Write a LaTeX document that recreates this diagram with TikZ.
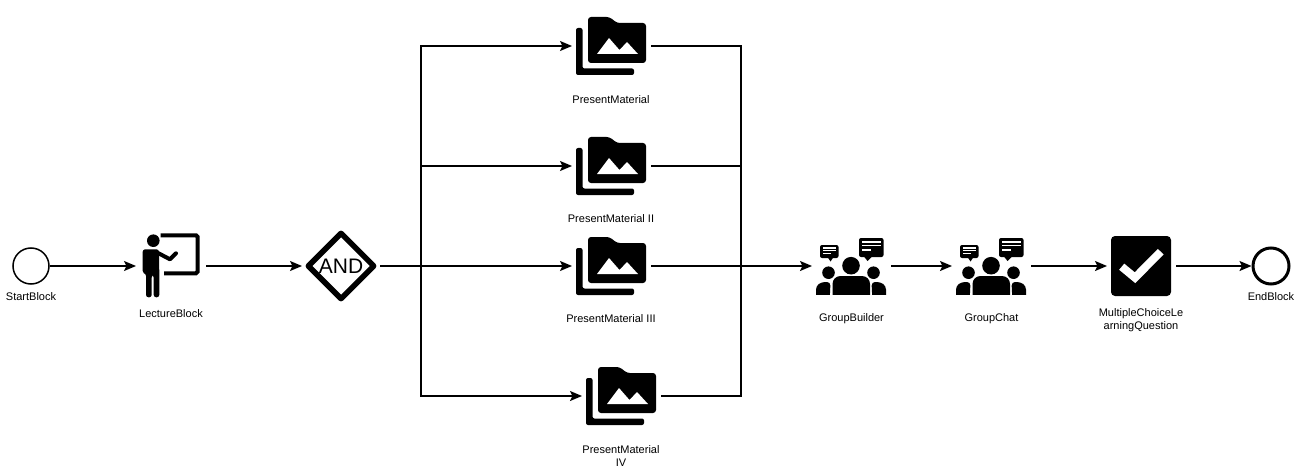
\documentclass[tikz,border=0pt]{standalone}
\usepackage{fontspec}
\setmainfont{Liberation Sans}
\usetikzlibrary{arrows.meta,shapes.geometric}
\tikzset{
  flow/.style={line width=1.5pt,-{Stealth[length=12pt,width=10pt,inset=2.5pt]}},
  wire/.style={line width=1.5pt},
  iconbox/.style={minimum width=79pt,minimum height=60pt,inner sep=0pt,outer sep=0pt},
  caption/.style={font=\fontsize{11pt}{13.5pt}\selectfont,align=center,inner sep=0pt},
  event/.style={circle,draw,fill=white,minimum size=36pt,inner sep=0pt},
  pics/foldericon/.style={code={
    \fill[rounded corners=2pt] (-35.5,-18) -- (-29,-18) -- (-29,22.5) -- (22.5,22.5) -- (22.5,29) -- (-35.5,29) -- cycle;
    \fill[rounded corners=3pt] (-23.5,-29) -- (-2,-29) -- (5.5,-23) -- (34.5,-23) -- (34.5,17) -- (-23.5,17) -- cycle;
    \fill[white] (-14.5,8) -- (-2.5,-8) -- (8,4) -- (15.5,-4) -- (26.5,8) -- cycle;
  }},
  pics/groupicon/.style={code={
    \fill (-0.5,-0.3) circle (8.8);
    \fill (-23,6.7) circle (6.3);
    \fill (22,6.7) circle (6.3);
    \fill[rounded corners=8pt] (-19,40) -- (-19,10) -- (18.5,10) -- (18.5,40) -- cycle;
    \fill[white] (-40,28.5) rectangle (40,45);
    \fill[rounded corners=3.5pt] (-35.5,33) -- (-35.5,20) -- (-30,16) -- (-21,16) -- (-21.8,33) -- cycle;
    \fill[rounded corners=3.5pt] (34.5,33) -- (34.5,20) -- (29,16) -- (20,16) -- (20.8,33) -- cycle;
    \fill[white] (-40,28.5) rectangle (40,45);
    \fill[rounded corners=2pt] (-31.5,-21) rectangle (-13,-8);
    \fill (-24,-9) -- (-21,-4.5) -- (-18,-9) -- cycle;
    \fill[rounded corners=2pt] (7.5,-28) rectangle (32,-9);
    \fill (12,-10) -- (16,-5) -- (21,-10) -- cycle;
    \foreach \yy in {-18,-15.5}
      \draw[white,line width=1.3pt] (-28.5,\yy) -- (-16,\yy);
    \draw[white,line width=1.3pt] (-28.5,-12.5) -- (-21,-12.5);
    \foreach \yy in {-24,-20.5}
      \draw[white,line width=1.5pt] (10.5,\yy) -- (29,\yy);
    \draw[white,line width=1.5pt] (10.5,-16) -- (19,-16);
  }},
  pics/lectureicon/.style={code={
    \fill (-17.7,-25.3) circle (6.3);
    \fill[rounded corners=2.5pt] (-28.3,-16.7) -- (-12,-16.7) -- (-11.7,8) -- (-11.7,31.3) -- (-17.3,31.3) -- (-17.3,9) -- (-19.3,9) -- (-19.3,31.3) -- (-25,31.3) -- (-25,7.3) -- (-28.3,7.3) -- cycle;
    \draw[line width=4pt,line cap=round,line join=round] (-13,-13) -- (-1,-6.7) -- (5,-12.7);
    \draw[line width=4pt,rounded corners=1.5pt] (-10.3,-30.7) -- (26.5,-30.7) -- (26.5,7.3) -- (-7,7.3);
  }}
}
\begin{document}
\begin{tikzpicture}[x=1pt,y=-1pt]
    \useasboundingbox (0,0) rectangle (1301,476);
    % events and blocks
    \node[event,line width=1.5pt] (start) at (31,266) {};
    \node[iconbox,minimum width=70pt] (lecture) at (171,266) {};
    \node[diamond,draw,line width=5.5pt,line join=round,aspect=1,minimum width=69pt,minimum height=69pt,inner sep=0pt,outer sep=4.5pt,font=\fontsize{21pt}{21pt}\selectfont] (and) at (341,266) {AND};
    \foreach \name/\xx/\yy in {matA/611.5/46,matB/611.5/166,matC/611.5/266,matD/621.5/396} {
      \node[iconbox] (\name) at (\xx,\yy) {};
      \pic at (\name) {foldericon};
    }
    \node[iconbox] (builder) at (851.5,266) {};
    \node[iconbox] (chat) at (991.5,266) {};
    \pic at (builder) {groupicon};
    \pic at (chat) {groupicon};
    \pic at (lecture) {lectureicon};
    \node[iconbox,minimum width=69pt] (question) at (1141.5,266) {};
    \fill[rounded corners=4pt] (1111,236) rectangle (1171,296);
    \draw[white,line width=8pt] (1121.7,266.7) -- (1135,277.7) -- (1160.7,251.7);
    \node[event,line width=3pt] (finish) at (1271,266) {};
    % captions
    \node[caption] (startlabel) at (31,297) {StartBlock};
    \node[caption] (lecturelabel) at (171,314) {LectureBlock};
    \node[caption] (labelA) at (611,100) {PresentMaterial};
    \node[caption] (labelB) at (611,219) {PresentMaterial II};
    \node[caption] (labelC) at (611,319) {PresentMaterial III};
    \node[caption] (labelD) at (621,456) {PresentMaterial\\IV};
    \node[caption] (builderlabel) at (851.5,319) {GroupBuilder};
    \node[caption] (chatlabel) at (991.5,319) {GroupChat};
    \node[caption] (questionlabel) at (1141,320) {MultipleChoiceLe\\arningQuestion};
    \node[caption] (finishlabel) at (1271,297) {EndBlock};
    % connectors
    \coordinate (split) at (421,266);
    \coordinate (merge) at (741,266);
    \draw[flow] (start) -- (lecture);
    \draw[flow] (lecture) -- (and);
    \draw[wire] (and) -- (split);
    \foreach \name in {matA,matB,matC,matD} {
      \draw[flow] (split) |- (\name);
      \draw[wire] (\name) -| (merge);
    }
    \draw[flow] (merge) -- (builder);
    \draw[flow] (builder) -- (chat);
    \draw[flow] (chat) -- (question);
    \draw[flow] (question) -- (finish);
\end{tikzpicture}
\end{document}
